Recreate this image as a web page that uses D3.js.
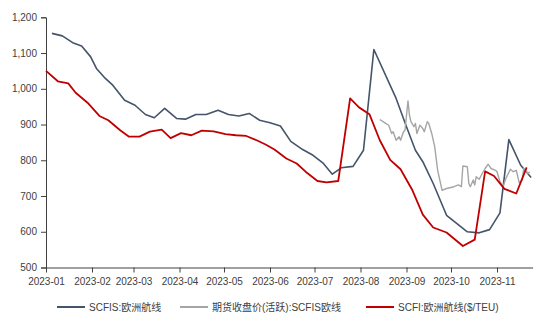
<!DOCTYPE html>
<html>
<head>
<meta charset="utf-8">
<script src="https://cdn.jsdelivr.net/npm/d3@7"></script>
<style>
  html, body { margin: 0; padding: 0; background: #fff; }
  svg { display: block; }
  text { font-family: "Liberation Sans", Arial, "Noto Sans CJK SC", sans-serif; }
</style>
</head>
<body>
<svg id="chart" width="550" height="330"></svg>
<script>
// SCFIS Europe route (weekly)
const scfisDates = ["2023-01-05","2023-01-12","2023-01-19","2023-01-25","2023-01-31","2023-02-04","2023-02-10","2023-02-15","2023-02-23","2023-03-02","2023-03-09","2023-03-15","2023-03-22","2023-03-30","2023-04-05","2023-04-12","2023-04-19","2023-04-27","2023-05-04","2023-05-11","2023-05-18","2023-05-25","2023-06-01","2023-06-08","2023-06-15","2023-06-23","2023-06-30","2023-07-07","2023-07-13","2023-07-19","2023-07-27","2023-08-03","2023-08-10","2023-08-25","2023-09-01","2023-09-07","2023-09-12","2023-09-19","2023-09-28","2023-10-05","2023-10-12","2023-10-20","2023-10-27","2023-11-03","2023-11-09","2023-11-17","2023-11-24"];
const scfisValues = [1155,1148,1129,1120,1090,1057,1029,1010,968,954,928,919,945,917,915,928,928,940,928,924,931,912,905,896,853,830,814,791,761,779,783,828,1110,973,894,828,796,735,646,623,600,597,606,653,858,786,752];

// Futures closing price (most active contract), SCFIS Europe
const futDates = ["2023-08-14","2023-08-18","2023-08-20","2023-08-22","2023-08-23","2023-08-25","2023-08-27","2023-08-28","2023-08-30","2023-08-31","2023-09-02","2023-09-03","2023-09-04","2023-09-06","2023-09-07","2023-09-08","2023-09-10","2023-09-12","2023-09-13","2023-09-15","2023-09-16","2023-09-18","2023-09-20","2023-09-22","2023-09-25","2023-09-28","2023-10-03","2023-10-06","2023-10-08","2023-10-09","2023-10-12","2023-10-13","2023-10-14","2023-10-16","2023-10-17","2023-10-18","2023-10-20","2023-10-22","2023-10-24","2023-10-26","2023-10-28","2023-10-31","2023-11-01","2023-11-03","2023-11-05","2023-11-07","2023-11-10","2023-11-12","2023-11-14","2023-11-16","2023-11-18","2023-11-19","2023-11-22","2023-11-23"];
const futValues = [914,903,898,875,880,856,866,856,880,884,966,926,908,894,903,875,898,889,880,908,903,875,838,772,716,721,726,731,726,784,782,735,726,745,731,754,747,763,777,789,777,772,768,740,726,749,775,768,772,737,745,777,763,768];

// SCFI Europe route ($/TEU, weekly)
const scfiDates = ["2023-01-01","2023-01-09","2023-01-16","2023-01-21","2023-01-29","2023-02-06","2023-02-12","2023-02-20","2023-02-26","2023-03-05","2023-03-12","2023-03-20","2023-03-26","2023-04-02","2023-04-09","2023-04-16","2023-04-24","2023-05-02","2023-05-09","2023-05-16","2023-05-23","2023-05-29","2023-06-04","2023-06-12","2023-06-19","2023-06-25","2023-07-03","2023-07-09","2023-07-17","2023-07-25","2023-07-31","2023-08-07","2023-08-14","2023-08-21","2023-08-28","2023-09-05","2023-09-12","2023-09-19","2023-09-28","2023-10-09","2023-10-17","2023-10-24","2023-10-30","2023-11-06","2023-11-14","2023-11-21"];
const scfiValues = [1050,1021,1015,989,961,924,912,884,866,866,880,886,862,876,870,883,881,873,870,868,856,844,830,805,791,768,742,738,742,973,948,929,856,801,775,716,648,612,598,560,578,769,756,720,707,780];

// Axis ticks
const yTicks = [500,600,700,800,900,1000,1100,1200];
const xTickDates = ["2023-01-01","2023-02-01","2023-03-01","2023-04-01","2023-05-01","2023-06-01","2023-07-01","2023-08-01","2023-09-01","2023-10-01","2023-11-01"];

// Legend labels
const legendLabels = ["SCFIS:欧洲航线", "期货收盘价(活跃):SCFIS欧线", "SCFI:欧洲航线($/TEU)"];
const seriesColors = ["#44546A", "#A5A5A5", "#C00000"];

const parse = d3.utcParse("%Y-%m-%d");
const svg = d3.select("#chart");

const plotLeft = 46, plotRight = 532.6, plotTop = 17.3, plotBottom = 267.5;

const x = d3.scaleUtc()
  .domain([parse("2023-01-01"), parse("2023-11-25")])
  .range([plotLeft, plotRight]);
const y = d3.scaleLinear().domain([500, 1200]).range([plotBottom, plotTop]);

// Y axis
const yAxis = svg.append("g")
  .attr("transform", `translate(${plotLeft},0)`)
  .call(d3.axisLeft(y).tickValues(yTicks).tickFormat(d3.format(",")).tickSize(5).tickPadding(4));
yAxis.select(".domain").attr("stroke", "#404040");
yAxis.selectAll(".tick line").attr("stroke", "#404040");
yAxis.selectAll(".tick text").attr("fill", "#404040").style("font-size", "10px");

// X axis
const xAxis = svg.append("g")
  .attr("transform", `translate(0,${plotBottom})`)
  .call(d3.axisBottom(x).tickValues(xTickDates.map(parse)).tickFormat(d3.utcFormat("%Y-%m")).tickSizeInner(5).tickSizeOuter(0).tickPadding(5));
xAxis.select(".domain").attr("stroke", "#404040");
xAxis.selectAll(".tick line").attr("stroke", "#404040");
xAxis.selectAll(".tick text").attr("fill", "#404040").style("font-size", "10px");

const line = d3.line().x(d => x(d[0])).y(d => y(d[1]));
const series = [
  { dates: scfisDates, values: scfisValues, color: seriesColors[0], width: 1.6 },
  { dates: futDates, values: futValues, color: seriesColors[1], width: 1.4 },
  { dates: scfiDates, values: scfiValues, color: seriesColors[2], width: 1.8 }
];
series.forEach(s => {
  const pts = s.dates.map((d, i) => [parse(d), s.values[i]]);
  svg.append("path")
    .datum(pts)
    .attr("d", line)
    .attr("fill", "none")
    .attr("stroke", s.color)
    .attr("stroke-width", s.width)
    .attr("stroke-linejoin", "round");
});

// Legend
const legendX = [57, 180, 366];
const legendY = 307;
legendLabels.forEach((label, i) => {
  const g = svg.append("g").attr("transform", `translate(${legendX[i]},${legendY})`);
  g.append("line").attr("x1", 0).attr("x2", 28).attr("y1", 0).attr("y2", 0)
    .attr("stroke", seriesColors[i]).attr("stroke-width", 2);
  g.append("text").attr("x", 32).attr("y", 0).attr("dy", "0.35em")
    .attr("fill", "#404040").style("font-size", "10px").text(label);
});
</script>
</body>
</html>
